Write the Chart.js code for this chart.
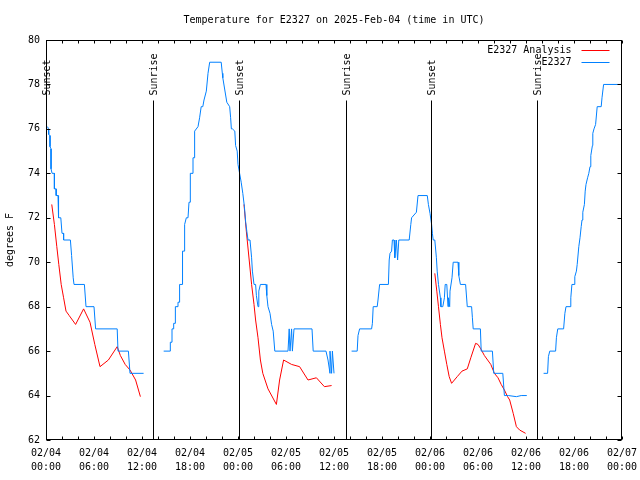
<!DOCTYPE html>
<html>
<head>
<meta charset="utf-8">
<script src="https://cdn.jsdelivr.net/npm/chart.js@4.4.1/dist/chart.umd.min.js"></script>
<style>
html,body{margin:0;padding:0;background:#fff;}
#wrap{width:640px;height:480px;}
</style>
</head>
<body>
<div id="wrap"><canvas id="c" width="640" height="480"></canvas></div>
<script>
// ---- Data (x = hours since 02/04 00:00 UTC) ----
const titleText = 'Temperature for E2327 on 2025-Feb-04 (time in UTC)';
const yTitle = 'degrees F';
const seriesNames = ['E2327 Analysis', 'E2327'];

const xTickDates = ['02/04','02/04','02/04','02/04','02/05','02/05','02/05','02/05','02/06','02/06','02/06','02/06','02/07'];
const xTickTimes = ['00:00','06:00','12:00','18:00','00:00','06:00','12:00','18:00','00:00','06:00','12:00','18:00','00:00'];

const sunLabels = ['Sunset','Sunrise','Sunset','Sunrise','Sunset','Sunrise'];
const sunHours  = [0.0, 13.375, 24.125, 37.5, 48.125, 61.375];

// Analysis (red)
const redHours = [0.72,1.05,1.35,1.6,1.9,2.2,2.5,2.9,3.7,4.7,5.5,6.1,6.75,7.8,8.9,9.3,9.9,10.5,11.2,11.8,
  12.5,
  24.75,25.04,25.4,25.7,26.0,26.2,26.5,26.8,27.1,27.75,28.8,29.2,29.7,30.7,31.7,32.75,33.8,34.8,35.7,
  40,
  48.6,48.85,49.06,49.3,49.5,49.8,50.1,50.4,50.7,51.4,52.0,52.66,53.1,53.7,54.0,54.35,54.8,55.2,55.6,56.05,56.5,56.9,57.3,57.7,57.96,58.4,58.8,59.2,59.95];
const redTemps = [72.6,71.7,70.7,69.9,69.0,68.4,67.8,67.6,67.2,67.9,67.3,66.3,65.3,65.6,66.2,65.8,65.4,65.15,64.7,63.95,
  null,
  72.6,71.4,70.1,69.0,68.1,67.4,66.6,65.6,65.0,64.3,63.6,64.7,65.6,65.4,65.3,64.7,64.8,64.4,64.45,
  null,
  69.5,68.7,68.0,67.2,66.6,66.0,65.4,64.85,64.55,64.85,65.1,65.2,65.7,66.35,66.3,66.1,65.8,65.6,65.4,65.0,64.8,64.5,64.25,63.95,63.8,63.2,62.6,62.45,62.3];

// Observations (blue)
const blueHours = [0.2,0.3,0.34,0.5,0.5,0.63,0.63,0.76,1.05,1.05,1.27,1.27,1.5,1.5,1.6,1.6,1.85,2.0,2.2,2.2,3.05,3.2,3.4,3.5,4.8,5.0,6.0,6.2,8.9,9.0,10.3,10.5,12.2,
  13.5,
  14.71,15.54,15.54,15.75,15.75,15.96,15.96,16.17,16.17,16.5,16.5,16.7,16.7,17.0,17.0,17.1,17.1,17.33,17.33,17.54,17.75,17.875,18.04,18.04,18.375,18.375,18.58,18.58,19.0,19.2,19.4,19.6,19.75,20.04,20.25,20.46,21.9,22.04,22.1,22.6,22.96,23.08,23.17,
  23.3,23.6,23.7,23.9,24.0,24.2,24.4,24.6,24.8,24.96,25.1,25.25,25.5,25.7,25.8,26.0,26.2,26.3,26.5,26.6,26.8,27.5,27.6,27.75,28.0,28.2,28.4,28.6,30.25,30.4,30.5,30.7,30.8,31.0,33.25,33.4,35.0,35.25,35.5,35.5,35.7,35.8,36.0,
  37.0,
  38.2,38.9,39.0,39.2,40.7,40.8,40.9,41.4,41.5,41.7,42.8,42.9,43.0,43.2,43.3,43.5,43.6,43.8,43.95,44.1,45.4,45.6,45.7,46.3,46.5,47.66,47.8,48.0,48.2,48.3,48.4,48.6,48.8,48.9,49.06,49.3,49.36,49.6,49.8,49.9,50.1,50.25,50.3,50.46,50.5,50.75,50.9,51.5,51.6,51.8,52.45,52.66,53.2,53.3,53.4,54.3,54.4,55.8,55.97,57.1,57.3,57.8,58.8,59.4,60.1,
  61.0,
  62.2,62.7,62.8,62.97,63.7,63.8,63.97,64.7,64.86,65.0,65.5,65.6,65.74,66.0,66.1,66.3,66.4,66.6,66.75,66.9,67.0,67.1,67.3,67.4,67.5,67.7,67.85,68.0,68.1,68.3,68.35,68.5,68.7,68.9,69.4,69.5,69.7,71.96];
const blueTemps = [76.1,76.0,75.75,75.7,75.2,75.1,74.2,74.0,74.0,73.3,73.3,73.0,73.0,72.7,72.7,72.0,72.0,71.3,71.3,71.0,71.0,70.3,69.3,69.0,69.0,68.0,68.0,67.0,67.0,66.0,66.0,65.0,65.0,
  null,
  66,66,66.4,66.4,67,67,67.25,67.25,68,68,68.2,68.2,69,69,69.5,69.5,70.5,70.5,71.7,72,72,72.7,72.7,74,74,74.7,74.7,75.9,76.1,76.5,77.0,77.0,77.3,77.7,78.5,79.0,79.0,78.5,78.3,77.2,77.0,76.5,76.0,
  76.0,75.9,75.25,75.0,74.4,74.0,73.6,73.1,72.5,71.8,71.4,71.0,71.0,70.2,69.6,69.0,69.0,68.5,68.0,68.7,69.0,69.0,68.5,68.0,67.7,67.2,66.9,66.0,66.0,67.0,66.0,67.0,66.0,67.0,67.0,66.0,66.0,65.6,65.0,66.0,65.0,66.0,65.0,
  null,
  66,66,66.7,67,67,67.25,68,68,68.3,69,69,70.1,70.4,70.5,71,71,70.2,71,70.1,71,71,71.7,72.0,72.25,73.0,73.0,72.6,72.2,71.7,71.3,71.0,71.0,70.2,69.6,69.0,68.4,68.0,68.0,68.4,69.0,69.0,68.0,68.4,68.0,68.7,69.3,70.0,70.0,69.4,69.0,69.0,68.0,68.0,67.5,67.0,67.0,66.0,66.0,65.0,65.0,64.0,64.0,63.95,64.0,64.0,
  null,
  65,65,65.75,66,66,66.6,67,67,67.7,68,68,68.4,69,69,69.35,69.6,69.9,70.7,71.1,71.6,71.9,72.25,72.6,73.2,73.5,73.8,74,74.3,74.8,75.25,75.8,76,76.2,77,77,77.4,78,78];

const yMin = 62, yMax = 80, yStep = 2;
const xMin = 0, xMax = 72, xMajor = 6, xMinor = 2;

const redColor = '#ff0000';
const blueColor = 'rgb(0,128,255)';
const FONT = "'DejaVu Sans Mono', 'Liberation Mono', monospace";

function toPoints(hs, ts) { return hs.map((h, i) => ({x: h, y: ts[i]})); }

const gnuplotDecor = {
  id: 'gnuplotDecor',
  afterDatasetsDraw(chart) {
    const ctx = chart.ctx;
    const a = chart.chartArea;
    const xs = chart.scales.x, ys = chart.scales.y;
    const L = Math.round(a.left) + 0.5, R = Math.round(a.right) - 0.5;
    const T = Math.round(a.top) + 0.5, B = Math.round(a.bottom) - 0.5;
    ctx.save();
    ctx.strokeStyle = '#000';
    ctx.lineWidth = 1;
    ctx.font = '10px ' + FONT;
    ctx.fillStyle = '#000';
    // title centred over plot area (gnuplot style)
    ctx.textAlign = 'center';
    ctx.textBaseline = 'middle';
    ctx.fillText(titleText, (a.left + a.right) / 2, a.top - 20);
    // sunrise / sunset markers
    sunHours.forEach((h, i) => {
      const x = Math.round(xs.getPixelForValue(h)) + 0.5;
      ctx.beginPath();
      ctx.moveTo(x, T + 60);
      ctx.lineTo(x, B);
      ctx.stroke();
      ctx.save();
      ctx.translate(x + 1, T + 55);
      ctx.rotate(-Math.PI / 2);
      ctx.textAlign = 'left';
      ctx.textBaseline = 'middle';
      ctx.fillText(sunLabels[i], 0, 0);
      ctx.restore();
    });
    // border
    ctx.strokeRect(L, T, R - L, B - T);
    // y ticks (both sides, inward)
    for (let v = yMin; v <= yMax; v += yStep) {
      const y = Math.round(ys.getPixelForValue(v)) + 0.5;
      ctx.beginPath();
      ctx.moveTo(L, y); ctx.lineTo(L + 4, y);
      ctx.moveTo(R, y); ctx.lineTo(R - 4, y);
      ctx.stroke();
    }
    // x ticks (bottom and top, inward)
    for (let h = xMin; h <= xMax; h += xMinor) {
      const x = Math.round(xs.getPixelForValue(h)) + 0.5;
      ctx.beginPath();
      ctx.moveTo(x, B); ctx.lineTo(x, B - 3);
      ctx.moveTo(x, T); ctx.lineTo(x, T + 3);
      ctx.stroke();
    }
    // legend
    ctx.textAlign = 'right';
    ctx.textBaseline = 'middle';
    const colors = [redColor, blueColor];
    seriesNames.forEach((n, i) => {
      const y = Math.round(a.top) + 10 + i * 12;
      ctx.fillStyle = '#000';
      ctx.fillText(n, R - 50, y);
      ctx.strokeStyle = colors[i];
      ctx.beginPath();
      ctx.moveTo(R - 40, y + 0.5);
      ctx.lineTo(R - 12, y + 0.5);
      ctx.stroke();
    });
    ctx.restore();
  }
};

Chart.defaults.font.family = FONT;
Chart.defaults.font.size = 10;
Chart.defaults.color = '#000';

new Chart(document.getElementById('c'), {
  type: 'line',
  data: {
    datasets: [
      {label: seriesNames[0], data: toPoints(redHours, redTemps), borderColor: redColor, borderWidth: 1,
       pointRadius: 0, tension: 0, spanGaps: false, order: 2},
      {label: seriesNames[1], data: toPoints(blueHours, blueTemps), borderColor: blueColor, borderWidth: 1,
       pointRadius: 0, tension: 0, spanGaps: false, order: 1}
    ]
  },
  options: {
    responsive: false,
    animation: false,
    events: [],
    layout: {padding: {left: 0, right: 18, top: 40, bottom: 0}},
    plugins: {
      legend: {display: false},
      tooltip: {enabled: false},
      title: {display: false}
    },
    scales: {
      x: {
        type: 'linear', min: xMin, max: xMax,
        grid: {display: false, drawTicks: false},
        border: {display: false},
        afterBuildTicks: s => { s.ticks = xTickDates.map((d, i) => ({value: xMin + i * xMajor})); },
        afterFit: s => { s.height = 40; s.paddingLeft = 0; s.paddingRight = 0; },
        ticks: {
          autoSkip: false, maxRotation: 0, minRotation: 0, padding: 6,
          font: {family: FONT, size: 10, lineHeight: 1.4},
          callback: (v, i) => [xTickDates[i], xTickTimes[i]]
        }
      },
      y: {
        min: yMin, max: yMax,
        grid: {display: false, drawTicks: false},
        border: {display: false},
        afterFit: s => { s.width = 46; s.paddingTop = 0; s.paddingBottom = 0; },
        ticks: {stepSize: yStep, padding: 6, font: {family: FONT, size: 10}},
        title: {display: true, text: yTitle, font: {family: FONT, size: 10}, padding: {top: 4, bottom: 4}}
      }
    }
  },
  plugins: [gnuplotDecor]
});
</script>
</body>
</html>
